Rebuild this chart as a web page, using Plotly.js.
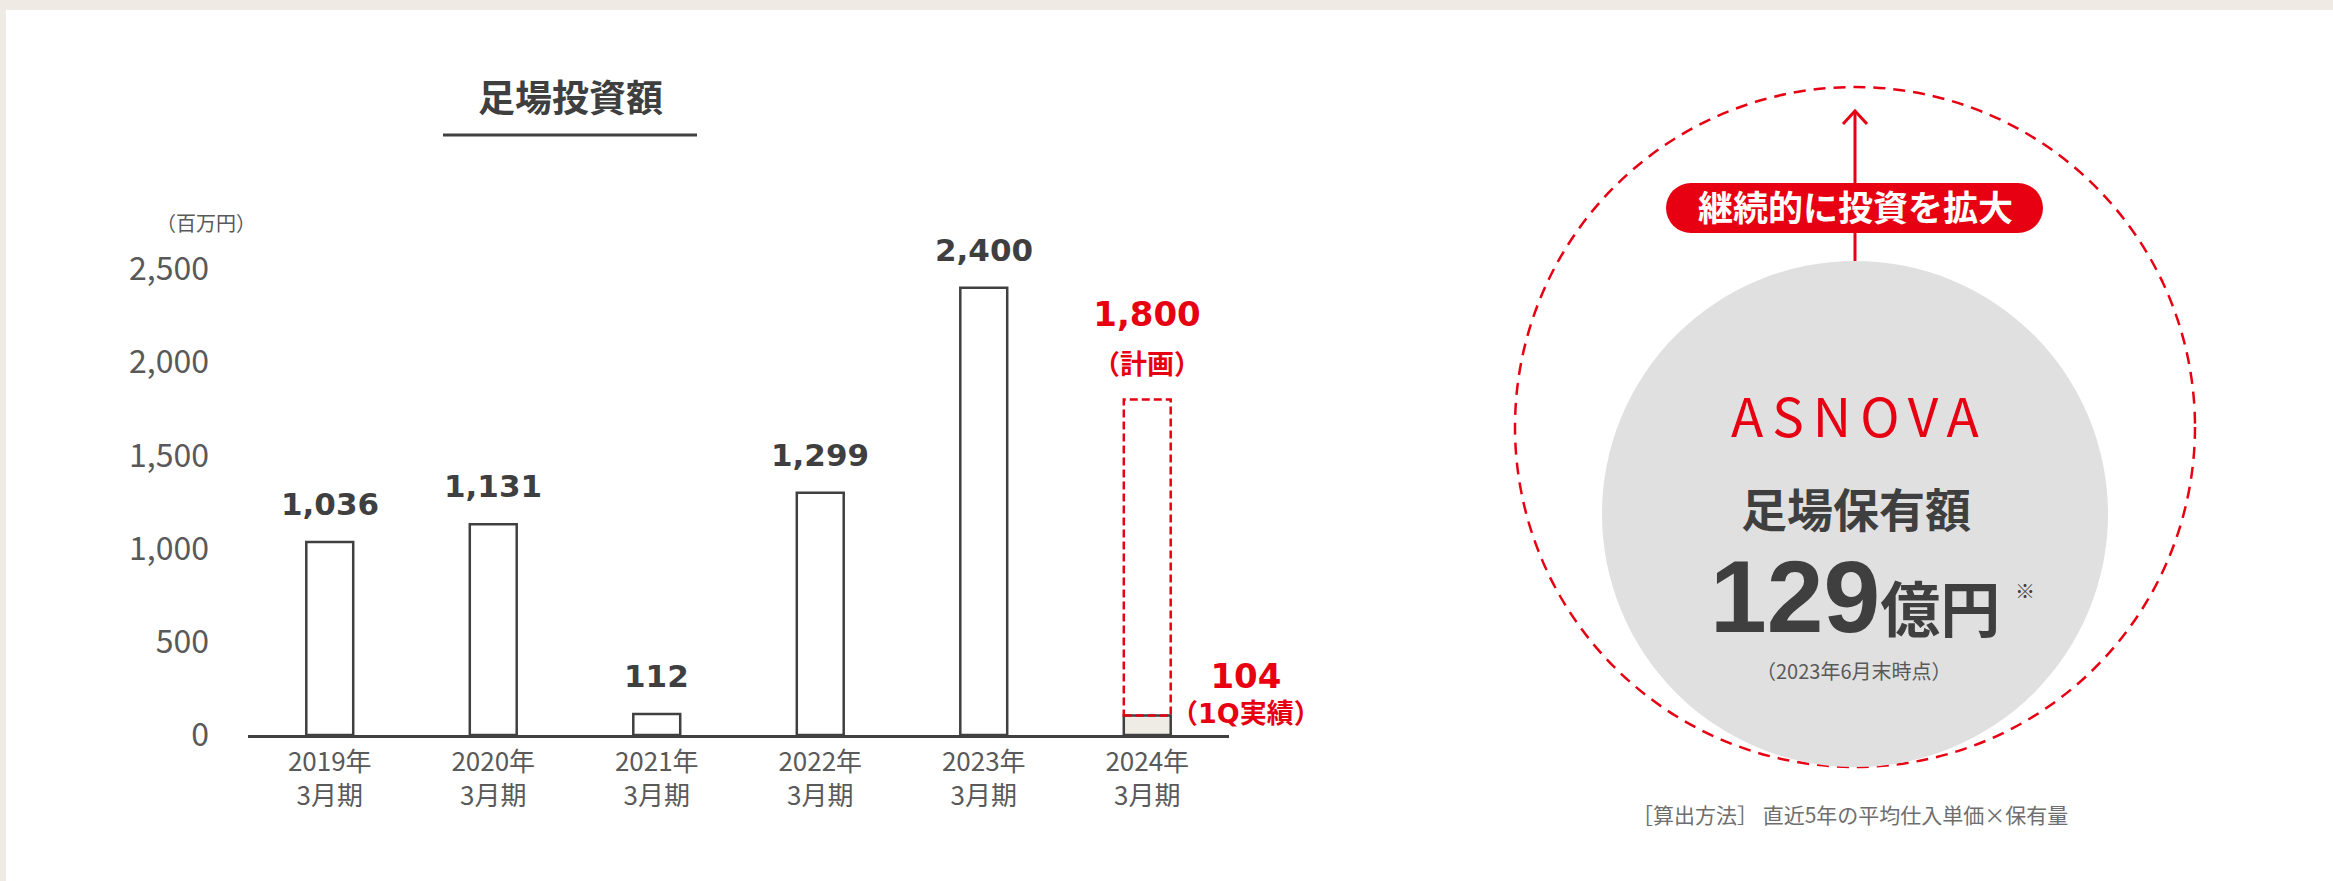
<!DOCTYPE html>
<html>
<head>
<meta charset="utf-8">
<script src="https://cdn.plot.ly/plotly-3.0.1.min.js"></script>
<style>html,body{margin:0;padding:0;background:#efebe4;}</style>
</head>
<body>
<div id="chart" style="width:2333px;height:881px;"></div>
<script>
// ---- data ----
const categories = ['2019年<br>3月期','2020年<br>3月期','2021年<br>3月期','2022年<br>3月期','2023年<br>3月期','2024年<br>3月期'];
const actual = [1036, 1131, 112, 1299, 2400, 104];
const planValue = 1800;
const planIndex = 5;
const yTicks = [0, 500, 1000, 1500, 2000, 2500];
const chartTitle = '足場投資額';
const unitLabel = '（百万円）';
const planLabel = '（計画）';
const actualLabel = '（1Q実績）';
const badgeText = '継続的に投資を拡大';
const logoText = 'ASNOVA';
const holdTitle = '足場保有額';
const holdValue = 129;
const holdUnit = '億円';
const holdNote = '（2023年6月末時点）';
const methodNote = '［算出方法］ 直近5年の平均仕入単価×保有量';

// ---- layout helpers ----
const W = 2333, H = 881;
const px = x => x / W;
const py = y => 1 - y / H;
const RED = '#e60012';
const DARK = '#3f3f3f';
const GRAY = '#595959';
const JP = '"Noto Sans CJK JP", "Noto Sans", sans-serif';
const NUM = '"DejaVu Sans", "Noto Sans CJK JP", sans-serif';
const barWidth = 0.287;
const fmt = v => v.toLocaleString('en-US');

const bar = {
  type: 'bar',
  x: categories,
  y: actual,
  width: barWidth,
  marker: {
    color: actual.map((v, i) => i === planIndex ? '#efece5' : '#ffffff'),
    line: {color: '#404040', width: 2.5}
  },
  hoverinfo: 'skip'
};

const annotations = [];
actual.forEach((v, i) => {
  if (i === planIndex) return;
  annotations.push({
    x: categories[i], y: v, xref: 'x', yref: 'y',
    text: '<b>' + fmt(v) + '</b>', showarrow: false,
    xanchor: 'center', yanchor: 'middle', yshift: 38,
    font: {family: NUM, size: 31, color: DARK}
  });
});
annotations.push(
  {x: categories[planIndex], y: planValue, xref: 'x', yref: 'y',
   text: '<b><span style="font-size:34px">' + fmt(planValue) + '</span><br><span style="font-size:27px">' + planLabel + '</span></b>',
   showarrow: false, xanchor: 'center', yanchor: 'middle', yshift: 62,
   font: {family: NUM, size: 37, color: RED}},
  {x: categories[planIndex], y: actual[planIndex], xref: 'x', yref: 'y',
   text: '<b><span style="font-size:34px">' + fmt(actual[planIndex]) + '</span><br>' + actualLabel + '</b>',
   showarrow: false, xanchor: 'center', yanchor: 'middle', yshift: 23, xshift: 99,
   font: {family: NUM, size: 27, color: RED}},
  // title & unit
  {x: px(570), y: py(96), xref: 'paper', yref: 'paper', text: '<b>' + chartTitle + '</b>', showarrow: false,
   xanchor: 'center', yanchor: 'middle', font: {family: JP, size: 37, color: DARK}},
  {x: px(206), y: py(223), xref: 'paper', yref: 'paper', text: unitLabel, showarrow: false,
   xanchor: 'center', yanchor: 'middle', font: {family: JP, size: 20, color: GRAY}},
  // right panel
  {x: px(1855), y: py(206), xref: 'paper', yref: 'paper', text: '<b>' + badgeText + '</b>', showarrow: false,
   xanchor: 'center', yanchor: 'middle', font: {family: JP, size: 35, color: '#ffffff'}},
  {x: px(1859), y: py(414), xref: 'paper', yref: 'paper',
   text: '<span style="letter-spacing:9px">' + logoText + '</span>', showarrow: false,
   xanchor: 'center', yanchor: 'middle', font: {family: JP, size: 53, color: RED, weight: 400}},
  {x: px(1856), y: py(507), xref: 'paper', yref: 'paper', text: '<b>' + holdTitle + '</b>', showarrow: false,
   xanchor: 'center', yanchor: 'middle', font: {family: JP, size: 46, color: DARK}},
  {x: px(1855), y: py(597), xref: 'paper', yref: 'paper',
   text: '<b>' + holdValue + '<span style="font-family:Noto Sans CJK JP;font-size:60px">' + holdUnit + '</span></b>',
   showarrow: false, xanchor: 'center', yanchor: 'middle',
   font: {family: '"Liberation Sans", Arial, sans-serif', size: 102, color: DARK}},
  {x: px(2025), y: py(590), xref: 'paper', yref: 'paper', text: '※', showarrow: false,
   xanchor: 'center', yanchor: 'middle', font: {family: JP, size: 20, color: DARK}},
  {x: px(1854), y: py(670), xref: 'paper', yref: 'paper', text: holdNote, showarrow: false,
   xanchor: 'center', yanchor: 'middle', font: {family: JP, size: 20, color: GRAY}},
  {x: px(1850), y: py(814), xref: 'paper', yref: 'paper', text: methodNote, showarrow: false,
   xanchor: 'center', yanchor: 'middle', font: {family: JP, size: 21, color: '#6e6e6e'}}
);

const shapes = [
  // white panel
  {type: 'rect', xref: 'paper', yref: 'paper', x0: px(6), x1: 1, y0: 0, y1: py(10),
   fillcolor: '#ffffff', line: {width: 0}, layer: 'below'},
  // title underline
  {type: 'line', xref: 'paper', yref: 'paper', x0: px(443), x1: px(697), y0: py(135), y1: py(135),
   line: {color: '#404040', width: 3}},
  // planned bar outline (dashed)
  {type: 'rect', xref: 'x', yref: 'y', x0: planIndex - barWidth / 2, x1: planIndex + barWidth / 2,
   y0: actual[planIndex], y1: planValue, line: {color: RED, width: 2.5, dash: '8px,4px'}},
  // dashed big circle
  {type: 'circle', xref: 'paper', yref: 'paper', x0: px(1515), x1: px(2195), y0: py(87), y1: py(767),
   line: {color: RED, width: 2.5, dash: '12px,8px'}},
  // arrow shaft
  {type: 'line', xref: 'paper', yref: 'paper', x0: px(1855), x1: px(1855), y0: py(262), y1: py(112),
   line: {color: RED, width: 3}},
  // arrow head
  {type: 'path', xref: 'paper', yref: 'paper',
   path: 'M ' + px(1843) + ' ' + py(124) + ' L ' + px(1855) + ' ' + py(111) + ' L ' + px(1867) + ' ' + py(124),
   line: {color: RED, width: 3}},
  // badge pill
  {type: 'rect', xref: 'paper', yref: 'paper', x0: px(1691), x1: px(2018), y0: py(183), y1: py(233),
   fillcolor: RED, line: {width: 0}},
  {type: 'circle', xref: 'paper', yref: 'paper', x0: px(1666), x1: px(1716), y0: py(183), y1: py(233),
   fillcolor: RED, line: {width: 0}},
  {type: 'circle', xref: 'paper', yref: 'paper', x0: px(1993), x1: px(2043), y0: py(183), y1: py(233),
   fillcolor: RED, line: {width: 0}},
  // gray disc
  {type: 'circle', xref: 'paper', yref: 'paper', x0: px(1602), x1: px(2108), y0: py(261), y1: py(767),
   fillcolor: '#e0e0e0', line: {width: 0}}
];

const layout = {
  width: W, height: H,
  margin: {l: 0, r: 0, t: 0, b: 0},
  paper_bgcolor: '#efebe4',
  plot_bgcolor: 'rgba(0,0,0,0)',
  showlegend: false,
  xaxis: {
    domain: [px(248), px(1229)], type: 'category', range: [-0.5, 5.5],
    showline: true, linecolor: '#404040', linewidth: 3,
    showgrid: false, zeroline: false, ticks: '',
    tickfont: {family: JP, size: 26, color: GRAY},
    ticklabelstandoff: 2, fixedrange: true
  },
  yaxis: {
    domain: [(H - 735) / H, (H - 269) / H], range: [0, 2500],
    tickvals: yTicks, ticktext: yTicks.map(fmt),
    showline: false, showgrid: false, zeroline: false, ticks: '',
    tickfont: {family: JP, size: 32, color: GRAY},
    ticklabelstandoff: 38, fixedrange: true
  },
  shapes: shapes,
  annotations: annotations
};

Plotly.newPlot('chart', [bar], layout, {displayModeBar: false, staticPlot: true});
</script>
</body>
</html>
